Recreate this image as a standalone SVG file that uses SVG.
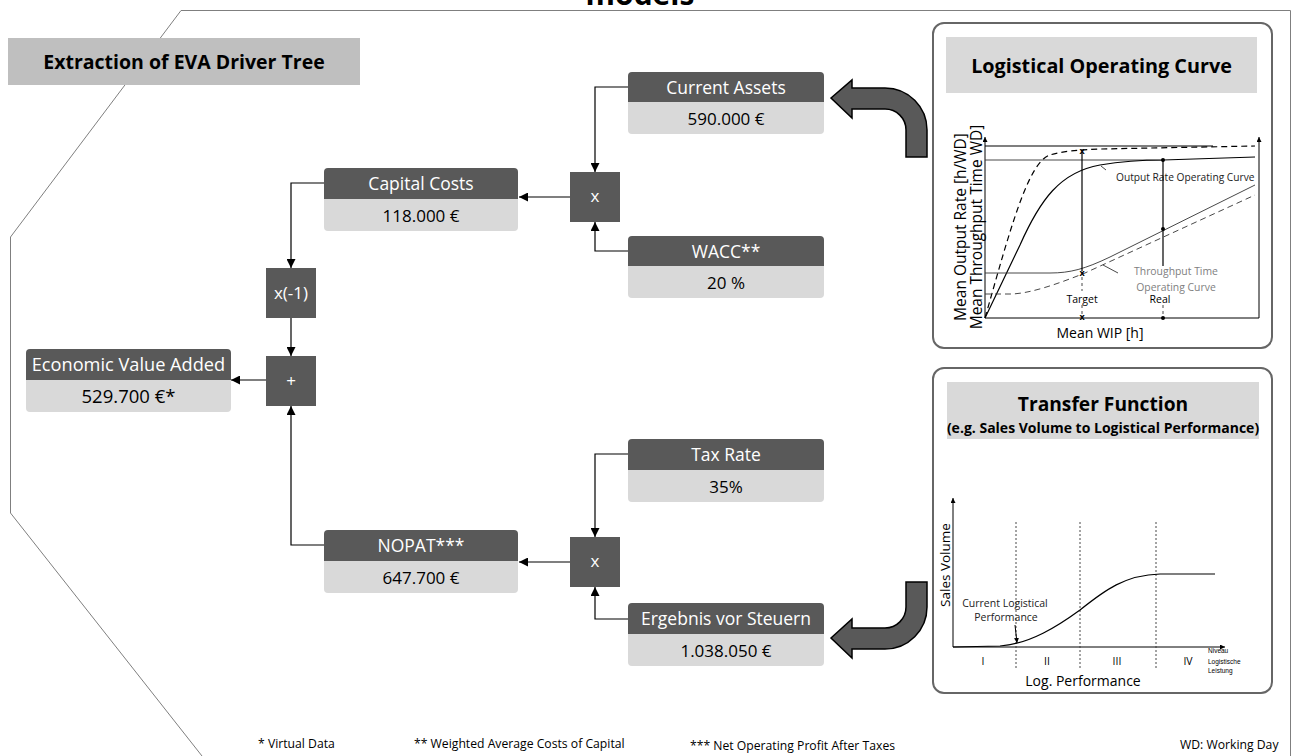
<svg xmlns="http://www.w3.org/2000/svg" width="1293" height="756" viewBox="0 0 1293 756">
  <defs>
    <marker id="arr" viewBox="0 0 10 10" refX="10" refY="5" markerWidth="9" markerHeight="9" markerUnits="userSpaceOnUse" orient="auto">
      <path d="M0,0 L10,5 L0,10 z" fill="#000"/>
    </marker>
    <marker id="tip" viewBox="0 0 10 10" refX="10" refY="5" markerWidth="5" markerHeight="5" markerUnits="userSpaceOnUse" orient="auto">
      <path d="M0,0 L10,5 L0,10 z" fill="#000"/>
    </marker>
    <style>
      text { font-family: "Open Sans", "Liberation Sans", sans-serif; }
      .hd { fill: #595959; }
      .bd { fill: #d9d9d9; }
      .op { fill: #595959; }
      .wt { fill: #fff; font-size: 17.5px; text-anchor: middle; }
      .bk { fill: #000; font-size: 17px; text-anchor: middle; }
      .opt { fill: #fff; font-size: 17px; text-anchor: middle; }
      .conn { fill: none; stroke: #000; stroke-width: 1.2; marker-end: url(#arr); }
      .frame { fill: none; stroke: #7f7f7f; stroke-width: 1; }
      .panel { fill: #fff; stroke: #666; stroke-width: 2; }
      .bigarrow { fill: #595959; stroke: #000; stroke-width: 1.5; stroke-linejoin: miter; }
      .ax { fill: none; stroke: #000; stroke-width: 1; }
      .ln { fill: none; stroke: #000; stroke-width: 1.2; }
      .ln2 { fill: none; stroke: #333; stroke-width: 0.9; }
      .dash { fill: none; stroke: #000; stroke-width: 1.2; stroke-dasharray: 6,4; }
      .dot { fill: none; stroke: #333; stroke-width: 0.9; stroke-dasharray: 2,2; }
      .foot { font-size: 12.2px; fill: #000; }
    </style>
  </defs>

  <!-- cut-off heading and frame -->
  <text x="640" y="5" style="font-size:30px;font-weight:bold;text-anchor:middle">models</text>
  <path class="frame" d="M1290.5,756 V10.5 H181 L10.5,237 V513 L202,756"/>

  <g id="section-title">
    <rect x="8" y="38" width="352" height="47" fill="#bfbfbf"/>
    <text x="184" y="68.500" style="font-size:19.5px;font-weight:bold;text-anchor:middle">Extraction of EVA Driver Tree</text>
  </g>

  <!-- connectors -->
  <g id="connectors">
    <path class="conn" d="M628,87 H595 V172"/>
    <path class="conn" d="M628,251 H595 V222"/>
    <path class="conn" d="M570,197 H519"/>
    <path class="conn" d="M324,183 H291 V268"/>
    <path class="conn" d="M291,318 V356"/>
    <path class="conn" d="M266,380 H231"/>
    <path class="conn" d="M324,545 H291 V406"/>
    <path class="conn" d="M628,454 H595 V537"/>
    <path class="conn" d="M628,619 H595 V587"/>
    <path class="conn" d="M570,562 H519"/>
  </g>

  <!-- value nodes: dark header, light value field -->
  <g id="node-current-assets">
    <path class="bd" d="M628,102 H824 V130 Q824,134 820,134 H632 Q628,134 628,130 Z"/>
    <path class="hd" d="M628,102 V76 Q628,72 632,72 H820 Q824,72 824,76 V102 Z"/>
    <text class="wt" x="726" y="93.500">Current Assets</text>
    <text class="bk" x="726" y="124.500">590.000 €</text>
  </g>
  <g id="node-wacc">
    <path class="bd" d="M628,266 H824 V294 Q824,298 820,298 H632 Q628,298 628,294 Z"/>
    <path class="hd" d="M628,266 V240 Q628,236 632,236 H820 Q824,236 824,240 V266 Z"/>
    <text class="wt" x="726" y="257.500">WACC**</text>
    <text class="bk" x="726" y="288.500">20 %</text>
  </g>
  <g id="node-capital-costs">
    <path class="bd" d="M324,199 H518 V227 Q518,231 514,231 H328 Q324,231 324,227 Z"/>
    <path class="hd" d="M324,199 V172 Q324,168 328,168 H514 Q518,168 518,172 V199 Z"/>
    <text class="wt" x="421" y="190">Capital Costs</text>
    <text class="bk" x="421" y="221.500">118.000 €</text>
  </g>
  <g id="node-eva">
    <path class="bd" d="M26,380 H231 V408 Q231,412 227,412 H30 Q26,412 26,408 Z"/>
    <path class="hd" d="M26,380 V353 Q26,349 30,349 H227 Q231,349 231,353 V380 Z"/>
    <text class="wt" style="font-size:18.2px" x="128.500" y="371">Economic Value Added</text>
    <text class="bk" style="font-size:18.5px" x="128.500" y="403">529.700 €*</text>
  </g>
  <g id="node-tax-rate">
    <path class="bd" d="M628,470 H824 V498 Q824,502 820,502 H632 Q628,502 628,498 Z"/>
    <path class="hd" d="M628,470 V443 Q628,439 632,439 H820 Q824,439 824,443 V470 Z"/>
    <text class="wt" x="726" y="461">Tax Rate</text>
    <text class="bk" x="726" y="492.500">35%</text>
  </g>
  <g id="node-ergebnis">
    <path class="bd" d="M628,634 H824 V662 Q824,666 820,666 H632 Q628,666 628,662 Z"/>
    <path class="hd" d="M628,634 V607 Q628,603 632,603 H820 Q824,603 824,607 V634 Z"/>
    <text class="wt" x="726" y="625">Ergebnis vor Steuern</text>
    <text class="bk" x="726" y="656.500">1.038.050 €</text>
  </g>
  <g id="node-nopat">
    <path class="bd" d="M324,561 H518 V589 Q518,593 514,593 H328 Q324,593 324,589 Z"/>
    <path class="hd" d="M324,561 V534 Q324,530 328,530 H514 Q518,530 518,534 V561 Z"/>
    <text class="wt" x="421" y="552">NOPAT***</text>
    <text class="bk" x="421" y="583.500">647.700 €</text>
  </g>

  <!-- operators -->
  <g id="op-multiply-capital">
    <rect class="op" x="570" y="172" width="50" height="50"/>
    <text class="opt" x="595" y="202">x</text>
  </g>
  <g id="op-negate">
    <rect class="op" x="266" y="268" width="50" height="50"/>
    <text class="opt" x="291" y="299">x(-1)</text>
  </g>
  <g id="op-sum">
    <rect class="op" x="266" y="356" width="50" height="50"/>
    <text class="opt" x="291" y="387">+</text>
  </g>
  <g id="op-multiply-tax">
    <rect class="op" x="570" y="537" width="50" height="50"/>
    <text class="opt" x="595" y="567">x</text>
  </g>

  <!-- bent block arrows feeding the tree -->
  <g id="arrow-upper">
    <path class="bigarrow" d="M831,98 L852,80 L852,88 L885,88 A42,42 0 0 1 927,130 L927,157 L906,157 L906,130 A21,21 0 0 0 885,109 L852,109 L852,118 Z"/>
  </g>
  <g id="arrow-lower">
    <path class="bigarrow" d="M831,638 L852,619 L852,628 L885,628 A21,21 0 0 0 906,607 L906,582 L927,582 L927,607 A42,42 0 0 1 885,649 L852,649 L852,658 Z"/>
  </g>

  <!-- Logistical Operating Curve panel -->
  <g id="panel-operating-curve">
    <rect class="panel" x="933" y="23" width="339" height="325" rx="11"/>
    <rect x="946" y="37" width="311" height="56" fill="#d9d9d9"/>
    <text x="1101.500" y="73" style="font-size:19.8px;font-weight:bold;text-anchor:middle">Logistical Operating Curve</text>

    <path class="ax" d="M985,318 V137" marker-end="url(#tip)"/>
    <path class="ax" d="M985,318 H1259"/>
    <path class="ax" d="M1259,318 V137" marker-end="url(#tip)"/>

    <!-- output rate curves -->
    <path class="ln" d="M985,146 H1213"/>
    <path class="dash" d="M985,318 C1010,230 1028,162 1050,155 C1062,151 1080,150 1100,149 L1255,146"/>
    <path class="ln2" d="M985,160 H1163"/>
    <path class="ln" d="M985,318 L1020,245 C1040,200 1060,172 1100,165 Q1130,160 1163,160 L1255,157"/>
    <path class="ln2" d="M1101,166 L1106,170"/>
    <text x="1116" y="181" style="font-size:10.2px;fill:#222">Output Rate Operating Curve</text>

    <!-- throughput time curves -->
    <path class="ln2" d="M985,273 L1050,273 C1070,273 1085,269 1110,257 L1255,185"/>
    <path class="dash" style="stroke-width:0.9;stroke:#333" d="M985,294 L1010,294 C1030,294 1060,283 1085,273 L1255,195"/>
    <path class="ln2" d="M1103,265 L1118,273"/>
    <text x="1176" y="275" style="font-size:10.4px;fill:#808080;text-anchor:middle">Throughput Time</text>
    <text x="1176" y="291" style="font-size:10.4px;fill:#808080;text-anchor:middle">Operating Curve</text>

    <!-- target / real markers -->
    <path class="ln" d="M1082,152 V271"/>
    <path class="ln2" style="stroke-dasharray:3,3" d="M1082,277 V291 M1082,305 V314"/>
    <text x="1082" y="154" style="font-size:9px;font-weight:bold;text-anchor:middle">x</text>
    <text x="1082" y="276" style="font-size:9px;font-weight:bold;text-anchor:middle">x</text>
    <text x="1082" y="320" style="font-size:9px;font-weight:bold;text-anchor:middle">x</text>
    <path class="ln" d="M1163,160 V266"/>
    <path class="ln2" style="stroke-dasharray:3,3" d="M1163,305 V316"/>
    <circle cx="1163" cy="160" r="2" fill="#000"/>
    <circle cx="1163" cy="229" r="2" fill="#000"/>
    <circle cx="1163" cy="318" r="2" fill="#000"/>
    <text x="1082" y="303" style="font-size:10.5px;text-anchor:middle">Target</text>
    <text x="1160" y="303" style="font-size:10.5px;text-anchor:middle">Real</text>

    <text transform="translate(966,227) rotate(-90)" style="font-size:15.5px;text-anchor:middle">Mean Output Rate [h/WD]</text>
    <text transform="translate(982,227) rotate(-90)" style="font-size:15.5px;text-anchor:middle">Mean Throughput Time WD]</text>
    <text x="1100" y="338" style="font-size:14px;text-anchor:middle">Mean WIP [h]</text>
  </g>

  <!-- Transfer Function panel -->
  <g id="panel-transfer-function">
    <rect class="panel" x="933" y="368" width="339" height="325" rx="11"/>
    <rect x="947" y="382" width="312" height="57" fill="#d9d9d9"/>
    <text x="1103" y="411" style="font-size:19.2px;font-weight:bold;text-anchor:middle">Transfer Function</text>
    <text x="1103" y="433" style="font-size:14px;font-weight:bold;text-anchor:middle">(e.g. Sales Volume to Logistical Performance)</text>

    <path class="ax" d="M953,647 V498" marker-end="url(#tip)"/>
    <path class="ax" d="M953,647 H1225" marker-end="url(#tip)"/>
    <path class="dot" d="M1016,522 V670 M1080,522 V670 M1156,522 V670"/>
    <path class="ln" d="M953,647 L1000,646 C1030,644 1058,626 1080,610 C1105,590 1125,575 1160,574 L1215,574"/>

    <text transform="translate(950,565) rotate(-90)" style="font-size:13.5px;text-anchor:middle">Sales Volume</text>
    <text x="1005" y="607" style="font-size:10.5px;text-anchor:middle;fill:#222">Current Logistical</text>
    <text x="1006" y="621" style="font-size:10.5px;text-anchor:middle;fill:#222">Performance</text>
    <path class="ax" d="M1015,625 L1017,643" marker-end="url(#tip)"/>

    <text x="983" y="665" style="font-size:10.5px;text-anchor:middle">I</text>
    <text x="1047" y="665" style="font-size:10.5px;text-anchor:middle">II</text>
    <text x="1117" y="665" style="font-size:10.5px;text-anchor:middle">III</text>
    <text x="1188" y="665" style="font-size:10.5px;text-anchor:middle">IV</text>
    <text x="1208" y="653" style="font-family:'Liberation Sans',sans-serif;font-size:6.5px">Niveau</text>
    <text x="1208" y="664" style="font-family:'Liberation Sans',sans-serif;font-size:6.5px">Logistische</text>
    <text x="1208" y="673" style="font-family:'Liberation Sans',sans-serif;font-size:6.5px">Leistung</text>
    <text x="1083" y="686" style="font-size:14px;text-anchor:middle">Log. Performance</text>
  </g>

  <!-- footnotes -->
  <g id="footnotes">
    <text class="foot" x="258" y="748">* Virtual Data</text>
    <text class="foot" x="414" y="748">** Weighted Average Costs of Capital</text>
    <text class="foot" x="690" y="750">*** Net Operating Profit After Taxes</text>
    <text class="foot" x="1180" y="749">WD: Working Day</text>
  </g>
</svg>
